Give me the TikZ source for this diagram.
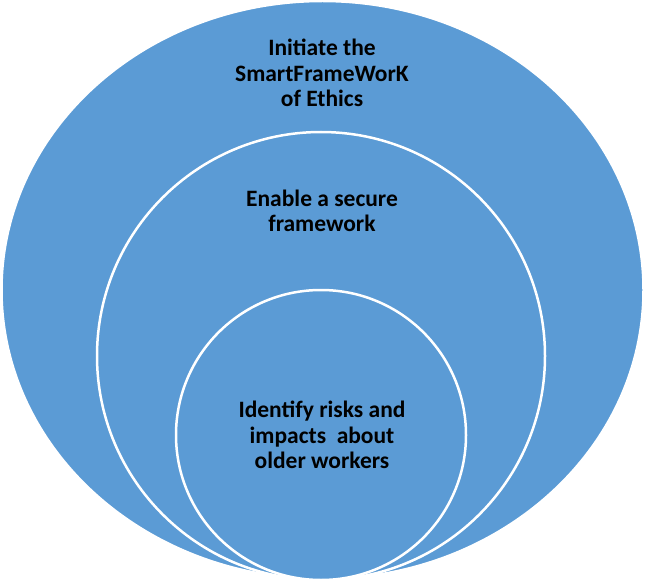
\documentclass[tikz,border=0pt]{standalone}
\usepackage{fontspec}
\setmainfont{Carlito}
\definecolor{blu}{HTML}{5B9BD5}
\begin{document}
\begin{tikzpicture}[x=1pt,y=-1pt,
  disc/.style={fill=blu,draw=white,line width=2.5pt},
  lbl/.style={align=center,font=\fontsize{23.5}{25.5}\selectfont\bfseries,text=black}]
\useasboundingbox (0,0) rectangle (645,580);
\path[disc] (322.5,290) ellipse [x radius=321, y radius=289];
\path[disc] (321,356) circle [radius=224];
\path[disc] (321,435) circle [radius=145];
\node[lbl] (t1) at (322,73) {Initiate the\\SmartFrameWorK\\of Ethics};
\node[lbl] (t2) at (322,211) {Enable a secure\\framework};
\node[lbl] (t3) at (322,435) {Identify risks and\\impacts\ \ about\\older workers};
\end{tikzpicture}
\end{document}
